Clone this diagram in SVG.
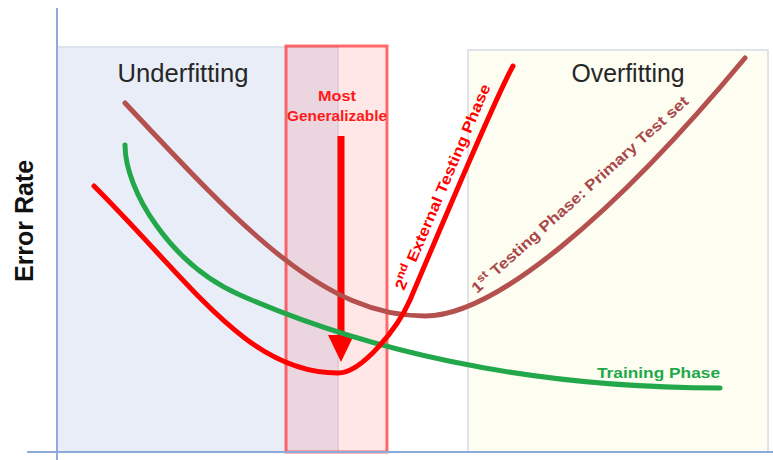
<svg xmlns="http://www.w3.org/2000/svg" width="773" height="460" viewBox="0 0 773 460">
  <style>
    .region-label { font-family: "Liberation Sans", Arial, sans-serif; font-size: 25px; fill: #262626; }
    .curve { fill: none; stroke-width: 5; stroke-linecap: round; stroke-linejoin: round; }
    .curve-label { font-family: "Liberation Sans", Arial, sans-serif; font-weight: bold; font-size: 15px; }
    .axis { stroke: #8eaadb; stroke-width: 2; fill: none; }
  </style>
  <rect width="773" height="460" fill="#ffffff"/>

  <g id="underfitting-region">
    <rect x="57" y="47" width="281" height="405" fill="#e9edf7" stroke="#d6deec" stroke-width="1.5"/>
    <text class="region-label" x="183" y="82" text-anchor="middle" textLength="131" lengthAdjust="spacingAndGlyphs">Underfitting</text>
  </g>

  <g id="overfitting-region">
    <rect x="468" y="50" width="300" height="402" fill="#fdfdf1" stroke="#dfe3ec" stroke-width="2"/>
    <text class="region-label" x="628" y="82" text-anchor="middle" textLength="113" lengthAdjust="spacingAndGlyphs">Overfitting</text>
  </g>

  <g id="most-generalizable">
    <rect x="286" y="46" width="101" height="406" fill="rgb(255,60,70)" fill-opacity="0.13" stroke="#ff2020" stroke-opacity="0.65" stroke-width="3"/>
    <text class="curve-label" x="337" y="101" text-anchor="middle" fill="#ff1a1a" textLength="38" lengthAdjust="spacingAndGlyphs">Most</text>
    <text class="curve-label" x="337" y="121" text-anchor="middle" fill="#ff1a1a" textLength="100" lengthAdjust="spacingAndGlyphs">Generalizable</text>
    <line x1="341" y1="136" x2="341" y2="338" stroke="#ff0000" stroke-width="7"/>
    <polygon points="328,335 354,335 341,362" fill="#ff0000"/>
  </g>

  <g id="axes">
    <line class="axis" x1="57" y1="8" x2="57" y2="460"/>
    <line class="axis" x1="27" y1="452" x2="773" y2="452"/>
    <text x="33" y="221" transform="rotate(-90 33 221)" text-anchor="middle" font-family="Liberation Sans, Arial, sans-serif" font-weight="bold" font-size="25" fill="#111111" textLength="122" lengthAdjust="spacingAndGlyphs">Error Rate</text>
  </g>

  <g id="curves">
    <path id="testing1-curve" class="curve" stroke="#b4504e" d="M125,103 C245,231.4 325,316 425,316 C495,316 615,214 745,58"/>
    <path id="training-curve" class="curve" stroke="#22a84a" d="M125,145 C125,190 170,264.2 240,295 C360,347.8 520,388 720,388"/>
    <path id="testing2-curve" class="curve" stroke="#ff0000" d="M94,186 C194,286 248,373 338,373 C362,373 398,327.6 410,300 C445,218 495,98 513,66"/>
  </g>

  <g id="curve-labels">
    <text id="label-training" class="curve-label" x="597" y="378" fill="#22a84a" font-size="16.5" textLength="123" lengthAdjust="spacingAndGlyphs">Training Phase</text>
    <text id="label-testing2" class="curve-label" x="404" y="291" fill="#ff0000" font-size="16.5" transform="rotate(-67 404 291)" textLength="222" lengthAdjust="spacingAndGlyphs">2<tspan font-size="11" baseline-shift="super">nd</tspan> External Testing Phase</text>
    <text id="label-testing1" class="curve-label" x="477" y="294" fill="#a8484a" font-size="16.5" transform="rotate(-42 477 294)" textLength="286" lengthAdjust="spacingAndGlyphs">1<tspan font-size="11" baseline-shift="super">st</tspan> Testing Phase: Primary Test set</text>
  </g>
</svg>
